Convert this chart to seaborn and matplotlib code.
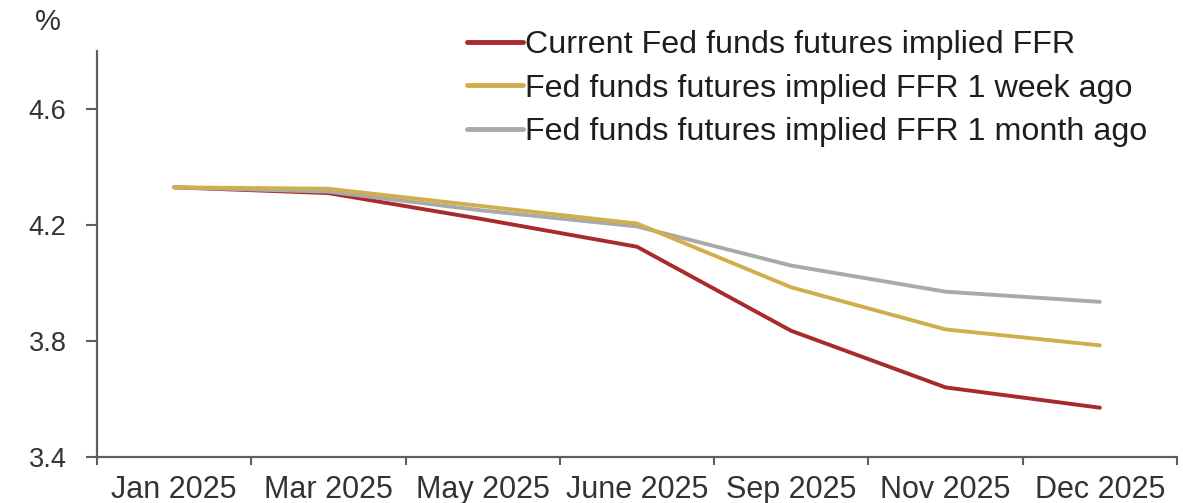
import matplotlib
matplotlib.use("Agg")
import matplotlib.pyplot as plt
import seaborn as sns
import pandas as pd
import numpy as np

# Fed funds futures implied policy rate path, %
months = ["Jan 2025", "Mar 2025", "May 2025", "June 2025", "Sep 2025", "Nov 2025", "Dec 2025"]
current = [4.33, 4.31, 4.22, 4.125, 3.835, 3.64, 3.57]
week_ago = [4.33, 4.325, 4.265, 4.205, 3.985, 3.84, 3.785]
month_ago = [4.33, 4.315, 4.25, 4.195, 4.06, 3.97, 3.935]

series_names = [
    "Current Fed funds futures implied FFR",
    "Fed funds futures implied FFR 1 week ago",
    "Fed funds futures implied FFR 1 month ago",
]
series_values = [current, week_ago, month_ago]
colors = ["#a82a2c", "#d1ae4c", "#a9a9a9"]

df = pd.concat(
    [pd.DataFrame({"pos": np.arange(len(months)), "month": months, "rate": vals, "series": name})
     for name, vals in zip(series_names, series_values)],
    ignore_index=True,
)

sns.set_style("white")
plt.rcParams["font.family"] = ["Liberation Sans", "DejaVu Sans"]

W, H = 1183, 503
fig = plt.figure(figsize=(W / 100, H / 100), dpi=100)
ax = fig.add_axes([97 / W, 1 - 457 / H, (1177 - 97) / W, (457 - 51) / H])

sns.lineplot(data=df, x="pos", y="rate", hue="series", hue_order=series_names,
             palette=colors, linewidth=2.8, ax=ax, sort=False)

# grey under yellow, red at the bottom
for line, z in zip(ax.lines, [2, 4, 3]):
    line.set_zorder(z)
    line.set_solid_capstyle("round")

ax.set_xlim(-0.5, len(months) - 0.5)
ax.set_ylim(3.4, 4.8)
ax.set_yticks([3.4, 3.8, 4.2, 4.6])
ax.set_yticklabels(["3.4", "3.8", "4.2", "4.6"])

ax.set_xticks(np.arange(len(months)))
ax.set_xticklabels(months)
ax.set_xticks(np.arange(len(months) + 1) - 0.5, minor=True)

text_color = "#333333"
spine_color = "#5e5e5e"
ax.tick_params(which="both", bottom=True, left=True)
ax.tick_params(axis="x", which="major", length=0, pad=13, labelsize=22, colors=text_color)
ax.tick_params(axis="x", which="minor", length=6, width=1.5, color=spine_color, direction="out")
ax.tick_params(axis="y", which="major", length=8, width=1.5, color=spine_color,
               direction="out", labelsize=19.5, labelcolor=text_color, pad=14)

for side in ["top", "right"]:
    ax.spines[side].set_visible(False)
for side in ["left", "bottom"]:
    ax.spines[side].set_color(spine_color)
    ax.spines[side].set_linewidth(1.6)

ax.set_xlabel("")
ax.set_ylabel("")
fig.text(48 / W, 1 - 22 / H, "%", ha="center", va="center", fontsize=21, color=text_color)

handles, labels = ax.get_legend_handles_labels()
leg = ax.legend(handles, labels, loc="upper left", bbox_to_anchor=(467 / W, 1 - 30 / H),
                bbox_transform=fig.transFigure, frameon=False, fontsize=23.2,
                handlelength=1.75, handletextpad=0.05, labelspacing=0.42, borderpad=0,
                borderaxespad=0)
for t in leg.get_texts():
    t.set_color("#1e1e1e")
for lh in leg.get_lines():
    lh.set_linewidth(3.5)

fig.savefig("out.png", dpi=100)
